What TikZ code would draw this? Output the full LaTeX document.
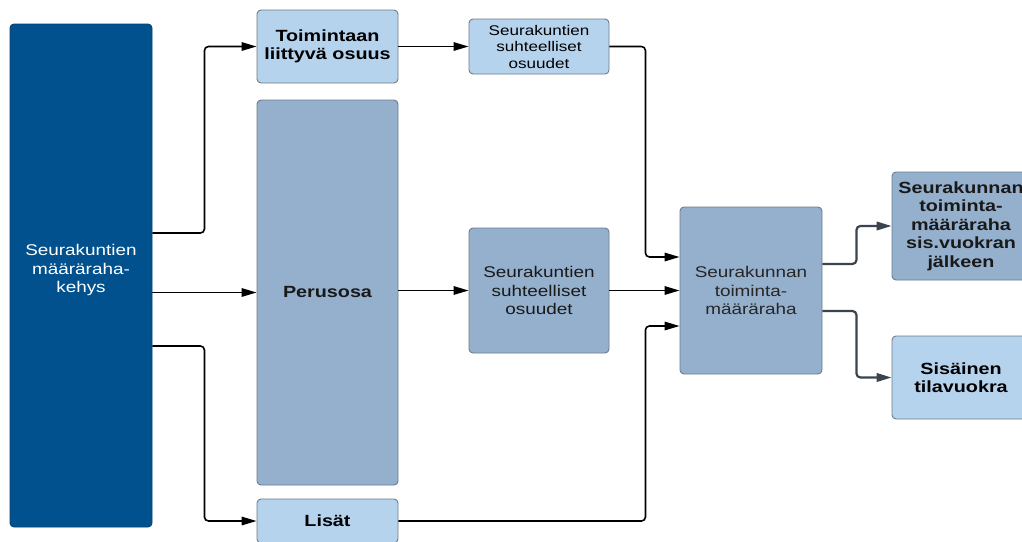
\documentclass[tikz,border=0pt]{standalone}
\usepackage{fontspec}
\setmainfont{Liberation Sans}[FakeStretch=1.22]
\usetikzlibrary{arrows.meta}
\definecolor{darkblue}{HTML}{02518F}
\definecolor{midblue}{HTML}{94B0CD}
\definecolor{lightblue}{HTML}{B6D3EE}
\definecolor{edgegray}{HTML}{6E7C8A}
\definecolor{slate}{HTML}{3A444F}
\tikzset{
  box/.style={draw=edgegray, line width=0.9pt, rounded corners=4pt, align=center,
    inner sep=2pt, font=\fontsize{15.5}{18.5}\selectfont},
  mainbox/.style={box, fill=darkblue, draw=darkblue!80!black, text=white},
  midbox/.style={box, fill=midblue, text=black!90},
  lightbox/.style={box, fill=lightblue, text=black},
  heavy/.style={font=\fontsize{16.2}{18.5}\selectfont\bfseries},
  conn/.style={draw=black, line width=1.6pt, rounded corners=4pt,
    -{Triangle[length=15pt,width=8.5pt]}},
  connout/.style={conn, draw=slate, line width=2.2pt,
    -{Triangle[length=15pt,width=8.5pt]}}
}
\begin{document}
\begin{tikzpicture}[x=1pt,y=-1pt]
\useasboundingbox[fill=white] (0,0) rectangle (1022,541);

% boxes
\node[mainbox, minimum width=142, minimum height=503] (frame) at (81,275.5) {};
\node[text=white, align=center, font=\fontsize{15.5}{18.5}\selectfont]
  (framelabel) at (81,270) {Seurakuntien\\määräraha-\\kehys};
\node[lightbox, heavy, minimum width=141, minimum height=73] (toim) at (327.5,46.5)
  {Toimintaan\\liittyvä osuus};
\node[midbox, heavy, minimum width=141, minimum height=385] (perus) at (327.5,292.5)
  {Perusosa};
\node[lightbox, heavy, minimum width=141, minimum height=44] (lisat) at (327.5,521)
  {Lisät};
\node[lightbox, minimum width=140, minimum height=55,
  font=\fontsize{14}{16.5}\selectfont] (osuA) at (539,46.5)
  {Seurakuntien\\suhteelliset\\osuudet};
\node[midbox, minimum width=140, minimum height=125] (osuB) at (539,290.5)
  {Seurakuntien\\suhteelliset\\osuudet};
\node[midbox, minimum width=142, minimum height=167, text=black!85] (toimr) at (751,290.5)
  {Seurakunnan\\toiminta-\\määräraha};
\node[midbox, heavy, minimum width=138, minimum height=108] (rtop) at (961,226)
  {Seurakunnan\\toiminta-\\määräraha\\sis.vuokran\\jälkeen};
\node[lightbox, heavy, minimum width=138, minimum height=83] (sis) at (961,377.5)
  {Sisäinen\\tilavuokra};

% connectors
\draw[conn] ([yshift=42.5pt]frame.east) -- ++(52,0) |- (toim.west);
\draw[conn] ([yshift=-17pt]frame.east) -- (perus.west);
\draw[conn] ([yshift=-70.5pt]frame.east) -- ++(52,0) |- (lisat.west);
\draw[conn] (toim.east) -- (osuA.west);
\draw[conn] (osuA.east) -- ++(36,0) |- ([yshift=33.5pt]toimr.west);
\draw[conn] (perus.east |- osuB.west) -- (osuB.west);
\draw[conn] (osuB.east) -- (toimr.west);
\draw[conn] (lisat.east) -- ++(247,0) |- ([yshift=-35.5pt]toimr.west);
\draw[connout] ([yshift=26.5pt]toimr.east) -- ++(34,0) |- (rtop.west);
\draw[connout] ([yshift=-20.5pt]toimr.east) -- ++(34,0) |- (sis.west);
\end{tikzpicture}
\end{document}
